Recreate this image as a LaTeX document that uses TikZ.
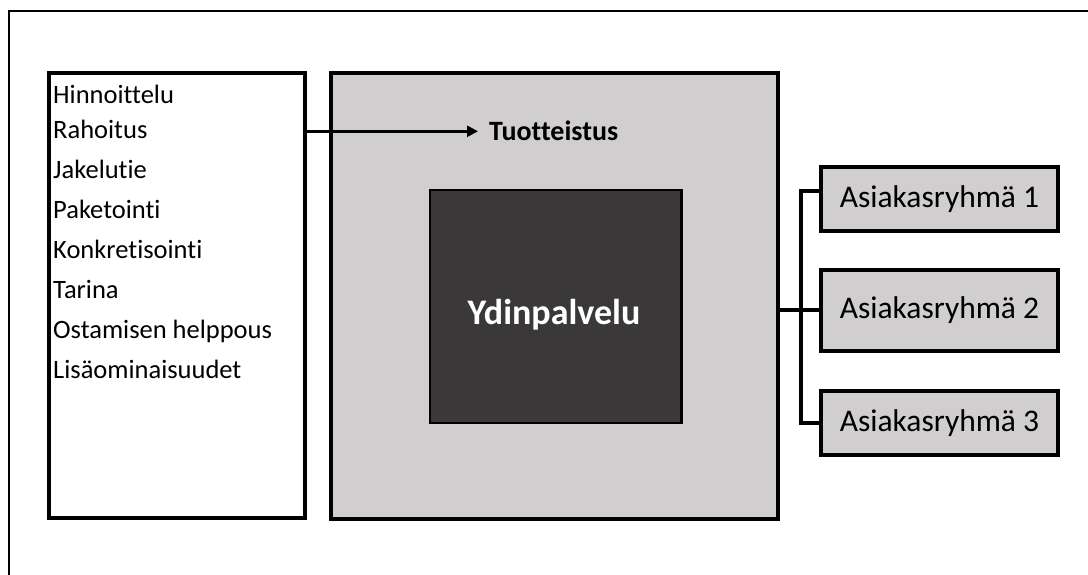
\documentclass[tikz,border=0pt]{standalone}
\usepackage{fontspec}
\setmainfont{Carlito}[Ligatures=NoCommon]
\usetikzlibrary{positioning, arrows.meta}
\definecolor{lightgrey}{HTML}{D0CECE}
\definecolor{darkgrey}{HTML}{3A3839}
\tikzset{
  x=1pt, y=-1pt,
  >={Triangle[length=11pt, width=11pt]},
  box/.style={draw, line width=4pt, inner sep=0pt, outer sep=0pt},
  group/.style={box, fill=lightgrey, minimum width=237pt,
    font=\fontsize{31.5}{36}\selectfont},
  link/.style={line width=4pt},
  feed/.style={->, line width=2.5pt},
}

\begin{document}
\begin{tikzpicture}
			      \useasboundingbox (0,0) rectangle (1088,575);
			      \draw[line width=2pt] (9,575) -- (9,11) -- (1088,11);

			      % boxes
			      \node[box, minimum width=256pt, minimum height=445pt] (feat) at (176.5,295.5) {};
			      \node[anchor=north west, inner sep=0pt, align=left,
			        font=\fontsize{26.5}{40}\selectfont] (items) at (53,85)
			        {Hinnoittelu\\[-5pt]Rahoitus\\Jakelutie\\Paketointi\\Konkretisointi\\Tarina\\Ostamisen helppous\\Lisäominaisuudet};
			      \node[box, fill=lightgrey, minimum width=447pt, minimum height=446pt] (prod) at (554.5,296) {};
			      \node[anchor=base west, inner sep=0pt, font=\fontsize{28}{32}\selectfont\bfseries] (tag) at (489,141) {Tuotteistus};
			      \node[box, line width=2.2pt, fill=darkgrey, minimum width=251.5pt, minimum height=233pt] (core) at (555.75,306.5) {};
			      \node[anchor=base, inner sep=0pt, text=white, font=\fontsize{36}{40}\selectfont\bfseries] (corelabel) at (554,324) {Ydinpalvelu};
			      \node[group, minimum height=64pt] (grp1) at (939.5,199) {Asiakasryhmä 1};
			      \node[group, minimum height=81pt] (grp2) at (939.5,310.5) {Asiakasryhmä 2};
			      \node[group, minimum height=64pt] (grp3) at (939.5,423) {Asiakasryhmä 3};

			      % connectors
			      \coordinate (bus) at (800.5,310);
			      \coordinate (b1) at (800.5,191.5);
			      \coordinate (b3) at (800.5,423);
			      \draw[feed] (feat.east |- tag.west) -- ([xshift=-11pt]tag.west);
			      \draw[link] (prod.east |- bus) -- (grp2.west |- bus);
			      \draw[link] (b1 -| grp1.west) -- (b1) -- (b3) -- (b3 -| grp3.west);

		      \end{tikzpicture}
\end{document}
